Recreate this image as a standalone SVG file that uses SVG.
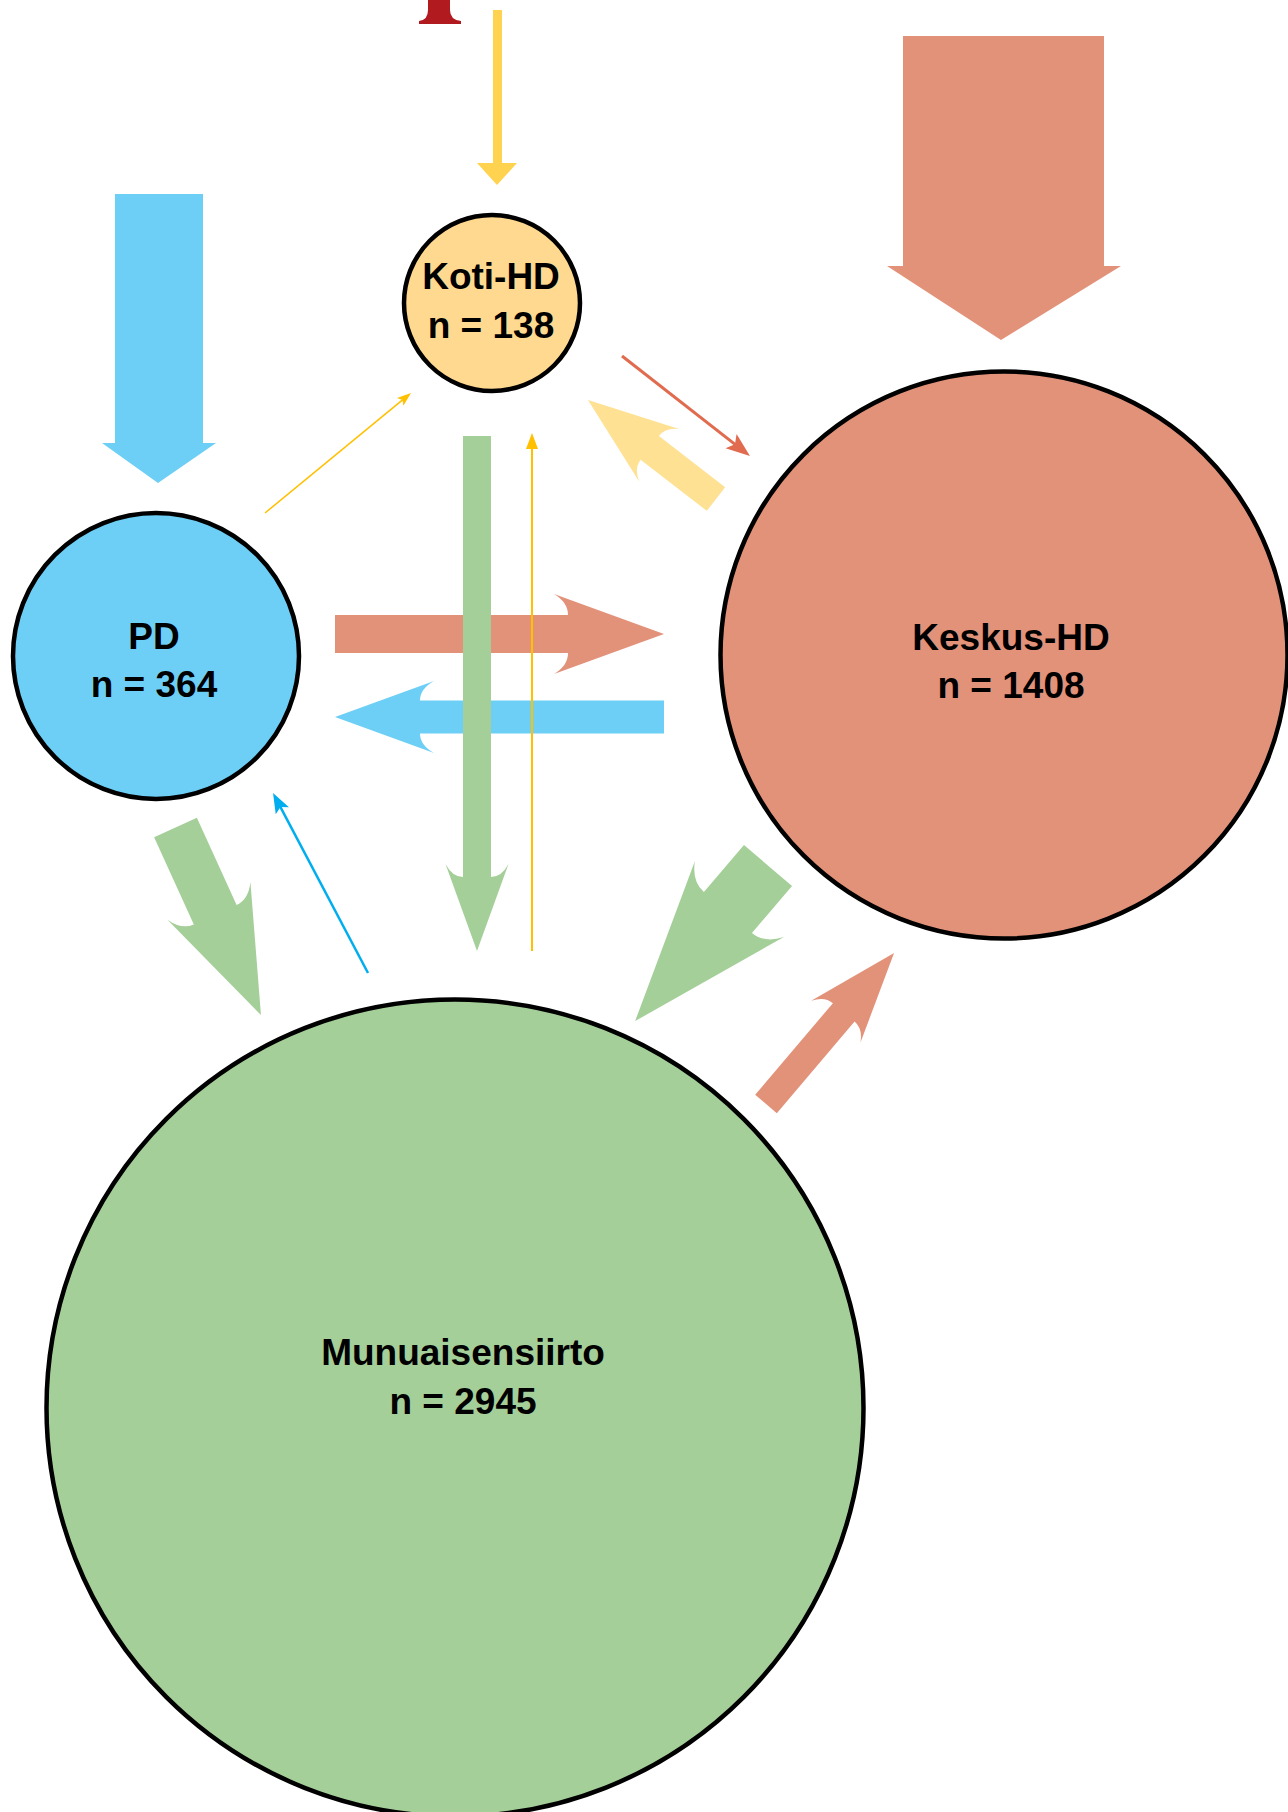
<svg xmlns="http://www.w3.org/2000/svg" width="1288" height="1812" viewBox="0 0 1288 1812">
<style>
.node{stroke:#000;stroke-width:4.5}
.lbl{font-family:"Liberation Sans",Arial,sans-serif;font-weight:bold;font-size:37px;fill:#000;text-anchor:middle}
.blue{fill:#6DCFF6}
.salmon{fill:#E3927A}
.green{fill:#A5CF99}
.yel{fill:#FFE194}
.thin{fill:none}
</style>
<defs>
<marker id="hYs" markerUnits="userSpaceOnUse" markerWidth="20" markerHeight="20" refX="-7" refY="0" orient="auto" style="overflow:visible"><path d="M0,0 L-14,-5 L-11,0 L-14,5 Z" fill="#FFC000"/></marker>
<marker id="hYv" markerUnits="userSpaceOnUse" markerWidth="20" markerHeight="20" refX="-8" refY="0" orient="auto" style="overflow:visible"><path d="M0,0 L-16,-6 L-16,6 Z" fill="#FFC000"/></marker>
<marker id="hR" markerUnits="userSpaceOnUse" markerWidth="30" markerHeight="30" refX="-12" refY="0" orient="auto" style="overflow:visible"><path d="M0,0 L-24,-9 L-19,0 L-24,9 Z" fill="#E06B4F"/></marker>
<marker id="hB" markerUnits="userSpaceOnUse" markerWidth="30" markerHeight="30" refX="-10" refY="0" orient="auto" style="overflow:visible"><path d="M0,0 L-20,-7.5 L-16,0 L-20,7.5 Z" fill="#00AEEF"/></marker>
</defs>
<rect width="1288" height="1812" fill="#fff"/>

<g id="node-pd">
<circle class="node blue" cx="156" cy="656" r="143"/>
<text class="lbl" x="154" y="649">PD</text>
<text class="lbl" x="154" y="697">n = 364</text>
</g>
<g id="node-koti">
<circle class="node" fill="#FFD98F" cx="492" cy="303" r="88"/>
<text class="lbl" x="491" y="289">Koti-HD</text>
<text class="lbl" x="491" y="338">n = 138</text>
</g>
<g id="node-keskus">
<circle class="node salmon" cx="1004" cy="655" r="283.5"/>
<text class="lbl" x="1011" y="649.5">Keskus-HD</text>
<text class="lbl" x="1011" y="697.5">n = 1408</text>
</g>
<g id="node-munu">
<circle class="node green" cx="455" cy="1408" r="408.5"/>
<text class="lbl" x="463" y="1365">Munuaisensiirto</text>
<text class="lbl" x="463" y="1414">n = 2945</text>
</g>

<g id="connectors">
<path fill="#B11A1E" d="M428,0 L450,0 L450,10 Q450,20 461,21 L461,24 L419,24 L419,21 Q428,20 428,10 Z"/>
<path fill="#FFD34F" d="M493,10 H502 V163 H517 L497,185 L477,163 H493 Z"/>
<path class="salmon" d="M903,36 H1104 V266 H1121 L1001,340 L887,266 H903 Z"/>
<path class="blue" d="M115,194 H203 V443 H216 L158,483 L102,443 H115 Z"/>

<path class="yel" transform="translate(716,499) rotate(217.7)" d="M0,-15 L83.7,-15 Q83.7,-25.9 71.3,-33.2 L161.8,0 L71.3,33.2 Q83.7,25.9 83.7,15 L0,15 Z"/>
<path class="salmon" transform="translate(335,634)" d="M0,-19 L233,-19 Q233,-31.6 219,-40 L329,0 L219,40 Q233,31.6 233,19 L0,19 Z"/>
<path class="blue" transform="translate(664,717) rotate(180)" d="M0,-16.5 L244,-16.5 Q244,-28.2 230,-36 L329,0 L230,36 Q244,28.2 244,16.5 L0,16.5 Z"/>
<path class="green" transform="translate(477,436) rotate(90)" d="M0,-14 L441,-14 Q441,-24.5 428,-31.5 L515,0 L428,31.5 Q441,24.5 441,14 L0,14 Z"/>
<path class="green" transform="translate(175.5,827.5) rotate(65.5)" d="M0,-23.5 L95.8,-23.5 Q95.8,-36.8 80.6,-45.6 L206.1,0 L80.6,45.6 Q95.8,36.8 95.8,23.5 L0,23.5 Z"/>
<path class="green" transform="translate(768,865.5) rotate(130.5)" d="M0,-31.6 L61.7,-31.6 Q61.7,-47.7 44,-58.5 L204.6,0 L44,58.5 Q61.7,47.7 61.7,31.6 L0,31.6 Z"/>
<path class="salmon" transform="translate(766,1104) rotate(-49.7)" d="M0,-14.2 L120.2,-14.2 Q120.2,-25.1 108,-32.3 L198,0 L108,32.3 Q120.2,25.1 120.2,14.2 L0,14.2 Z"/>

<line class="thin" x1="265" y1="513" x2="405.6" y2="397.4" stroke="#FFC000" stroke-width="1.5" marker-end="url(#hYs)"/>
<line class="thin" x1="622" y1="356" x2="740.5" y2="448.6" stroke="#E06B4F" stroke-width="3" marker-end="url(#hR)"/>
<line class="thin" x1="368" y1="973" x2="277.7" y2="801.8" stroke="#00AEEF" stroke-width="2.5" marker-end="url(#hB)"/>
<line class="thin" x1="532" y1="951" x2="532" y2="441" stroke="#FFC000" stroke-width="2" marker-end="url(#hYv)"/>
</g>
</svg>
